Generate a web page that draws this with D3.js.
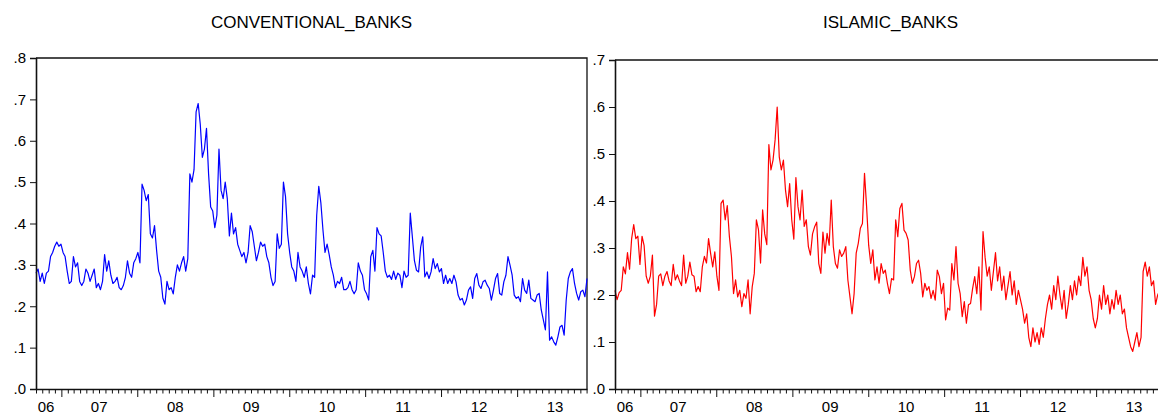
<!DOCTYPE html>
<html>
<head>
<meta charset="utf-8">
<script src="https://cdn.jsdelivr.net/npm/d3@7"></script>
<style>
    body { margin: 0; background: #fff; }
    text { font-family: "Liberation Sans", Arial, sans-serif; fill: #000; }
</style>
</head>
<body>
<svg id="chart" width="1158" height="414"></svg>
<script>
// observations every 10 days starting from this date
const startDate = "2006-09-01";
const stepDays = 10;

const conventional = [
    .28, .29, .26, .28, .255, .28, .285, .32, .33, .345,
    .355, .345, .35, .33, .32, .285, .255, .26, .32, .295,
    .305, .26, .25, .26, .29, .28, .26, .275, .29, .245,
    .255, .24, .26, .325, .285, .31, .275, .255, .26, .27,
    .245, .24, .25, .27, .31, .28, .27, .305, .315, .33,
    .305, .495, .48, .455, .47, .375, .365, .395, .335, .285,
    .27, .22, .205, .26, .24, .245, .23, .27, .30, .285,
    .305, .32, .285, .315, .52, .50, .53, .67, .69, .64,
    .56, .58, .63, .52, .44, .43, .39, .42, .58, .48,
    .46, .50, .46, .37, .425, .375, .39, .35, .335, .32,
    .33, .305, .33, .395, .38, .345, .31, .33, .355, .345,
    .35, .32, .305, .27, .25, .26, .375, .34, .35, .50,
    .465, .375, .33, .295, .285, .26, .33, .295, .285, .27,
    .295, .255, .23, .275, .27, .42, .49, .45, .385, .33,
    .35, .325, .295, .275, .245, .26, .255, .27, .24, .24,
    .245, .26, .24, .23, .24, .305, .285, .275, .24, .23,
    .215, .32, .335, .285, .39, .375, .37, .33, .285, .27,
    .275, .265, .285, .265, .28, .275, .245, .285, .27, .275,
    .425, .368, .31, .287, .283, .343, .368, .271, .283, .267,
    .283, .315, .291, .303, .283, .291, .255, .275, .255, .267,
    .255, .275, .259, .227, .215, .219, .203, .215, .239, .247,
    .219, .267, .279, .251, .243, .259, .263, .251, .243, .215,
    .239, .267, .279, .231, .227, .259, .275, .32, .299, .275,
    .227, .219, .223, .211, .267, .239, .231, .263, .219, .215,
    .211, .227, .231, .191, .167, .143, .283, .118, .126, .114,
    .106, .126, .15, .154, .13, .215, .267, .283, .291, .255,
    .231, .215, .235, .239, .223, .267
];

const islamic = [
    .21, .19, .205, .21, .26, .245, .29, .255, .32, .35,
    .32, .325, .265, .325, .305, .24, .225, .24, .285, .155,
    .18, .24, .245, .22, .24, .25, .23, .22, .265, .232,
    .243, .23, .22, .285, .225, .24, .27, .243, .24, .207,
    .218, .207, .26, .282, .268, .32, .288, .26, .292, .24,
    .21, .395, .402, .36, .39, .325, .282, .203, .232, .196,
    .21, .175, .203, .193, .232, .16, .218, .246, .36, .339,
    .268, .381, .33, .307, .52, .466, .487, .53, .60, .494,
    .466, .487, .423, .388, .437, .36, .319, .45, .388, .36,
    .423, .346, .36, .303, .285, .33, .345, .355, .267, .246,
    .334, .289, .331, .306, .402, .303, .267, .257, .296, .282,
    .289, .303, .232, .196, .16, .203, .289, .31, .342, .352,
    .459, .388, .306, .267, .296, .232, .26, .225, .267, .246,
    .253, .225, .203, .235, .232, .36, .324, .384, .395, .338,
    .331, .317, .253, .225, .239, .267, .274, .246, .196, .225,
    .21, .218, .193, .21, .189, .253, .239, .203, .225, .147,
    .172, .168, .267, .232, .303, .225, .203, .154, .186, .14,
    .179, .182, .214, .239, .203, .26, .168, .335, .28, .24,
    .26, .21, .25, .29, .23, .26, .21, .24, .19, .22,
    .25, .20, .23, .18, .21, .19, .17, .14, .16, .11,
    .09, .13, .10, .12, .095, .13, .11, .15, .18, .20,
    .17, .22, .19, .24, .20, .17, .21, .15, .18, .22,
    .19, .23, .20, .24, .22, .28, .24, .26, .21, .19,
    .15, .13, .15, .20, .17, .22, .18, .20, .16, .19,
    .17, .21, .18, .20, .16, .17, .13, .11, .09, .08,
    .10, .12, .09, .11, .25, .27, .24, .26, .22, .23,
    .18, .20, .21, .19, .22, .20
];

const convTicks = [0, .1, .2, .3, .4, .5, .6, .7, .8];
const islTicks = [0, .1, .2, .3, .4, .5, .6, .7];
const yearLabels = ["06", "07", "08", "09", "10", "11", "12", "13"];

const svg = d3.select("#chart");
const t0 = d3.timeParse("%Y-%m-%d")(startDate);

function toPoints(values) {
    return values.map((v, i) => ({ date: d3.timeDay.offset(t0, i * stepDays), value: v }));
}

function drawPanel(box, title, values, ticks, color) {
    const points = toPoints(values);
    const g = svg.append("g");

    const x = d3.scaleTime()
        .domain([t0, points[points.length - 1].date])
        .range([box.left, box.right]);

    const y = d3.scaleLinear()
        .domain([0, ticks[ticks.length - 1]])
        .range([box.bottom, box.top]);

    // frame (top + right)
    g.append("path")
        .attr("d", `M${box.left},${box.top}H${box.right}V${box.bottom}`)
        .attr("fill", "none")
        .attr("stroke", "#111")
        .attr("stroke-width", 1.3);

    // series
    g.append("path")
        .datum(points)
        .attr("fill", "none")
        .attr("stroke", color)
        .attr("stroke-width", 1.2)
        .attr("stroke-linejoin", "round")
        .attr("d", d3.line().x(d => x(d.date)).y(d => y(d.value)));

    // Y axis
    const fmt = d => d3.format(".1f")(d).replace(/^0\./, ".");
    const yAxis = g.append("g")
        .attr("transform", `translate(${box.left},0)`)
        .call(d3.axisLeft(y).tickValues(ticks).tickFormat(fmt).tickSize(6).tickPadding(4));
    yAxis.select(".domain").attr("stroke", "#111").attr("stroke-width", 1.6);
    yAxis.selectAll(".tick line").attr("stroke", "#111");
    yAxis.selectAll("text").style("font-size", "15px").attr("fill", "#000");

    // X axis: month minor ticks, year major ticks
    const months = d3.timeMonth.range(d3.timeMonth.ceil(t0), x.domain()[1]);
    const xAxis = g.append("g")
        .attr("transform", `translate(0,${box.bottom})`)
        .call(d3.axisBottom(x).tickValues(months).tickFormat("").tickSizeOuter(0)
            .tickSizeInner(0));
    xAxis.select(".domain").attr("stroke", "#111").attr("stroke-width", 1.6);
    xAxis.selectAll(".tick line")
        .attr("stroke", "#111")
        .attr("y2", d => d.getMonth() === 0 ? 8 : 4.5);

    // year labels centred on each year's span
    yearLabels.forEach((lab, k) => {
        const yr = 2006 + k;
        const mid = new Date(yr, 6, 2);
        let px = x(mid);
        if (mid < t0) px = box.left + 10;
        g.append("text")
            .attr("x", px)
            .attr("y", box.bottom + 23)
            .attr("text-anchor", "middle")
            .style("font-size", "15px")
            .text(lab);
    });

    // title
    g.append("text")
        .attr("x", (box.left + box.right) / 2)
        .attr("y", 28)
        .attr("text-anchor", "middle")
        .style("font-size", "17px")
        .text(title);
}

drawPanel({ left: 36, right: 587, top: 58, bottom: 389 }, "CONVENTIONAL_BANKS", conventional, convTicks, "#0000ff");
drawPanel({ left: 615, right: 1166, top: 60, bottom: 389 }, "ISLAMIC_BANKS", islamic, islTicks, "#ff0000");
</script>
</body>
</html>
